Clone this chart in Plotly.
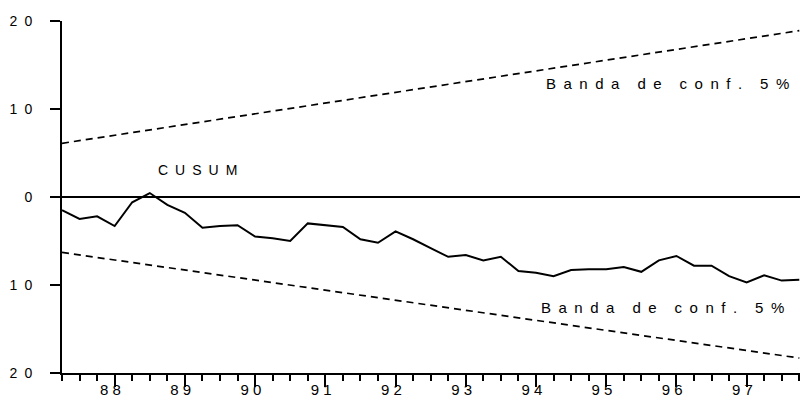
import plotly.graph_objects as go

# Quarterly periods 1987Q2 .. 1997Q4 (decimal years)
start_year = 1987.25
n_quarters = 43
quarters = [start_year + 0.25 * k for k in range(n_quarters)]

cusum = [-1.5, -2.5, -2.2, -3.3, -0.6, 0.45, -0.9, -1.8, -3.5, -3.3,
         -3.2, -4.5, -4.7, -5.0, -3.0, -3.2, -3.4, -4.8, -5.2, -3.9,
         -4.8, -5.8, -6.8, -6.6, -7.2, -6.8, -8.4, -8.6, -9.0, -8.3,
         -8.2, -8.2, -7.95, -8.5, -7.2, -6.7, -7.8, -7.8, -9.0, -9.7,
         -8.9, -9.5, -9.4]

band_x = [1987.25, 1997.75]
upper_band = [6.1, 18.9]
lower_band = [-6.3, -18.3]

year_ticks = [1988, 1989, 1990, 1991, 1992, 1993, 1994, 1995, 1996, 1997]
year_labels = ["88", "89", "90", "91", "92", "93", "94", "95", "96", "97"]
y_ticks = [20, 10, 0, -10, -20]
y_labels = ["20", "10", "0", "10", "20"]

font_family = "Liberation Sans, Arial, sans-serif"
EN = "\u2002"


def spaced(word, gap=EN):
    return gap.join(list(word))


def spaced_phrase(phrase, gap=EN, word_gap="\u2003\u2009"):
    return word_gap.join(spaced(w, gap) for w in phrase.split(" "))


fig = go.Figure()
fig.add_trace(go.Scatter(x=band_x, y=upper_band, mode="lines",
                         line=dict(color="black", width=1.7, dash="7px,5px"),
                         hoverinfo="skip", showlegend=False))
fig.add_trace(go.Scatter(x=band_x, y=lower_band, mode="lines",
                         line=dict(color="black", width=1.7, dash="7px,5px"),
                         hoverinfo="skip", showlegend=False))
fig.add_trace(go.Scatter(x=quarters, y=cusum, mode="lines",
                         line=dict(color="black", width=2),
                         showlegend=False))

band_text = spaced_phrase("Banda de conf. 5%")
fig.add_annotation(x=1989.18, y=3.1, text=spaced("CUSUM"), showarrow=False,
                   font=dict(size=14, color="black", family=font_family))
fig.add_annotation(x=1995.88, y=12.9, text=band_text, showarrow=False,
                   font=dict(size=15, color="black", family=font_family))
fig.add_annotation(x=1995.80, y=-12.5, text=band_text, showarrow=False,
                   font=dict(size=15, color="black", family=font_family))

fig.update_xaxes(range=[1987.25, 1997.76], showgrid=False, zeroline=False,
                 showline=True, linecolor="black", linewidth=2,
                 tickmode="array", tickvals=year_ticks,
                 ticktext=[spaced(t, " ") + "\u00a0\u00a0" for t in year_labels],
                 ticks="outside", ticklen=12, tickwidth=1.5, tickcolor="black",
                 ticklabelstandoff=-10,
                 minor=dict(ticks="outside", dtick=0.25, tick0=1987.25, ticklen=6,
                            tickwidth=1.5, tickcolor="black", showgrid=False),
                 tickfont=dict(size=15, color="black", family=font_family))
fig.update_yaxes(range=[-20, 20], showgrid=False, zeroline=True,
                 zerolinecolor="black", zerolinewidth=1.5,
                 showline=True, linecolor="black", linewidth=2,
                 tickmode="array", tickvals=y_ticks,
                 ticktext=[spaced(t) for t in y_labels],
                 ticks="outside", ticklen=10, tickwidth=2, tickcolor="black",
                 ticklabelstandoff=15,
                 tickfont=dict(size=14, color="black", family=font_family))

fig.update_layout(width=800, height=402, plot_bgcolor="white", paper_bgcolor="white",
                  margin=dict(l=62, r=0, t=21, b=29))

fig.write_html("out.html", config={"displayModeBar": False},
               post_script="document.body.style.margin='0';document.body.style.overflow='hidden';")
